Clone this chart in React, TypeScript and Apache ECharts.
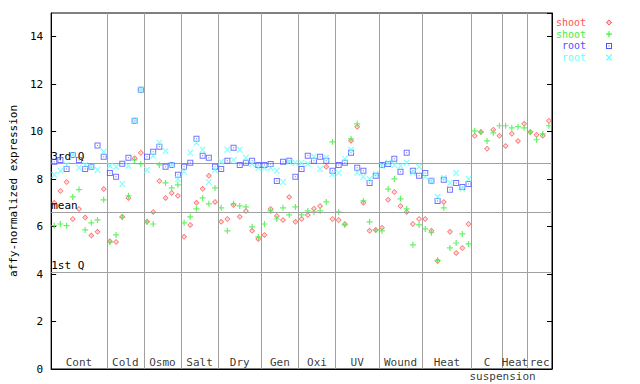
import React, { useEffect, useRef } from "react";
import * as echarts from "echarts";

const GROUP_NAMES = ["Cont", "Cold", "Osmo", "Salt", "Dry", "Gen", "Oxi", "UV", "Wound", "Heat", "C", "Heat", "rec"];
const GROUP_SIZES = [9, 6, 6, 6, 7, 6, 6, 7, 7, 8, 5, 4, 4];
const SUB_LABEL = "suspension";
const SUB_LABEL_X = 73;

const Y_TICKS_MIN = 0;
const Y_TICKS_MAX = 15;
const Y_INTERVAL = 2;

const Q_NAMES = ["3rd Q", "mean", "1st Q"];
const Q_VALUES = [8.69, 6.62, 4.09];

const SHOOT_RED = [
  7.0, 7.5, 7.88, 6.32, 6.74, 6.38, 5.62, 5.78, 7.58,
  5.38, 5.35, 6.41, 7.21, 8.88, 9.11,
  6.2, 6.62, 7.92, 7.21, 7.42, 7.3,
  5.57, 6.07, 7.0, 7.59, 8.14, 7.04,
  6.2, 6.32, 6.91, 6.41, 6.66, 5.82, 5.48,
  5.65, 6.74, 6.45, 6.28, 7.25, 6.2,
  6.32, 6.49, 6.75, 6.87, 8.52, 6.32,
  6.28, 6.11, 9.62, 10.21, 7.0, 5.82, 5.86,
  5.95, 7.13, 7.46, 6.87, 6.62, 6.11, 6.32,
  6.32, 5.82, 4.55, 7.04, 5.78, 4.89, 5.1, 6.11,
  9.83, 9.99, 9.28, 10.08, 9.83,
  9.4, 9.91, 9.61, 10.33,
  9.99, 9.87, 9.83, 10.46,
];

const SHOOT_GREEN = [
  6.04, 6.11, 6.04, 7.25, 7.56, 5.86, 6.16, 6.28, 7.13,
  5.35, 5.65, 6.39, 7.3, 8.81, 8.64,
  6.2, 6.11, 8.6, 7.84, 7.63, 7.76,
  6.16, 6.41, 6.75, 7.21, 6.96, 7.63,
  6.79, 5.82, 6.96, 6.87, 6.83, 5.99, 5.57,
  6.11, 6.66, 6.32, 6.79, 6.49, 6.83,
  6.49, 6.66, 6.62, 6.66, 7.04, 9.57,
  6.62, 6.07, 9.7, 10.33, 7.08, 6.2, 5.86,
  5.82, 7.58, 8.01, 7.17, 6.75, 5.23, 6.07,
  5.9, 5.74, 4.58, 6.79, 5.1, 5.31, 5.69, 5.27,
  10.03, 9.99, 9.61, 9.95, 10.25,
  10.25, 10.16, 10.21, 10.16,
  9.99, 9.66, 9.91, 10.25,
];

const ROOT_BLUE = [
  8.73, 8.81, 8.43, 9.02, 8.81, 8.43, 8.52, 9.42, 8.94,
  8.26, 8.1, 8.65, 8.9, 10.46, 11.77,
  8.94, 9.15, 9.36, 8.52, 8.6, 8.18,
  8.52, 8.69, 9.7, 8.98, 8.9, 8.52,
  8.43, 8.77, 9.32, 8.6, 8.69, 8.77, 8.6,
  8.6, 8.64, 7.92, 8.73, 8.77, 8.1,
  8.43, 8.98, 8.77, 8.94, 8.77, 8.35,
  8.6, 8.69, 9.11, 8.48, 8.35, 7.84, 8.14,
  8.6, 8.64, 8.86, 8.31, 9.11, 8.35, 8.14,
  8.26, 7.93, 7.08, 7.97, 7.55, 7.84, 7.67, 7.8,
  null, null, null, null, null,
  null, null, null, null,
  null, null, null, null,
];

const ROOT_CYAN = [
  8.18, 8.35, 8.6, 9.02, 8.48, 8.6, 8.52, 8.39, 9.15,
  8.56, 8.52, 7.8, 8.56, 10.46, 11.77,
  8.39, 8.98, 9.53, 9.19, 8.6, 8.01,
  8.31, 9.11, 9.53, 9.24, 7.88, 8.39,
  8.73, 9.24, 8.81, 9.24, 8.9, 8.64, 8.48,
  8.48, 8.48, 8.35, 7.88, 8.73, 8.69,
  8.69, 8.64, 8.94, 8.43, 8.9, 8.22,
  8.27, 8.86, 9.24, 8.27, 8.1, 8.01, 8.22,
  8.56, 8.69, 8.6, 8.56, 8.69, 8.27, 8.52,
  8.1, 7.93, 7.25, 8.05, 7.84, 8.26, 7.59, 8.01,
  null, null, null, null, null,
  null, null, null, null,
  null, null, null, null,
];

const SERIES_NAMES = ["shoot", "shoot", "root", "root"];
const COLORS = ["#ff5555", "#44ee44", "#5050ff", "#66ffff"];

const P_DIAMOND = "M2.5,0L5,2.5L2.5,5L0,2.5Z M2.5,1.1L1.1,2.5L2.5,3.9L3.9,2.5Z M2.5,2L3,2.5L2.5,3L2,2.5Z";
const P_PLUS = "M2,0h1v2h2v1h-2v2h-1v-2h-2v-1h2z";
const P_SQUARE = "M0,0h6v6h-6z M1,1v4h4v-4z M2.5,2.5h1v1h-1z";
const P_CROSS = "M0,0L1,0L2.5,1.8L4,0L5,0L5,0.6L3.1,2.5L5,4.4L5,5L4,5L2.5,3.2L1,5L0,5L0,4.4L1.9,2.5L0,0.6Z";
const PATHS = [P_DIAMOND, P_PLUS, P_SQUARE, P_CROSS];
const SIZES = [6, 6, 6, 6];

const FONT = "'DejaVu Sans Mono', 'Liberation Mono', monospace";
const FS = 11;
const LEGEND_FS = 10;
const LEGEND_Y0 = 22.5;
const LEGEND_STEP = 11.7;

let registered = false;
function registerShapes() {
  if (registered) return;
  registered = true;
  PATHS.forEach((d, k) => {
    echarts.graphic.registerShape("mk" + k, echarts.graphic.extendPath(d, {}));
  });
}

export default function App() {
  const ref = useRef<HTMLDivElement>(null);

  useEffect(() => {
    document.body.style.margin = "0";
    registerShapes();
    const chart = echarts.init(ref.current!, undefined, { renderer: "svg" });

    const bounds: number[] = [];
    const centers: number[] = [];
    let acc = 0;
    GROUP_SIZES.forEach((s) => {
      centers.push(acc + s / 2);
      acc += s;
      bounds.push(acc);
    });
    const total = acc;
    const separators = bounds.slice(0, bounds.length - 1);

    const allSeries = [SHOOT_RED, SHOOT_GREEN, ROOT_BLUE, ROOT_CYAN];

    const scatterSeries = allSeries.map((arr, k) => ({
      type: "scatter",
      name: SERIES_NAMES[k] + k,
      data: arr
        .map((v, i) => (v == null ? null : [i + 0.5, v]))
        .filter((d) => d != null),
      symbol: "path://" + PATHS[k],
      symbolSize: SIZES[k],
      itemStyle: { color: COLORS[k] },
      silent: true,
      z: 3 + k,
    }));

    const labelData = GROUP_NAMES.map((n, i) => ({ value: [centers[i], 0], name: n }));

    const option: any = {
      animation: false,
      backgroundColor: "#ffffff",
      grid: {
        left: 44,
        right: 88,
        top: 13,
        bottom: 15,
        show: true,
        borderColor: "#000000",
        borderWidth: 1,
        backgroundColor: "transparent",
      },
      xAxis: {
        type: "value",
        min: 0,
        max: total,
        axisLine: { show: true, lineStyle: { color: "#000000", width: 1 } },
        axisTick: { show: false },
        axisLabel: { show: false },
        splitLine: { show: false },
      },
      yAxis: [
        {
          type: "value",
          min: Y_TICKS_MIN,
          max: Y_TICKS_MAX,
          interval: Y_INTERVAL,
          name: "affy-normalized expression",
          nameLocation: "middle",
          nameGap: 32,
          nameRotate: 90,
          nameTextStyle: { fontFamily: FONT, fontSize: FS, color: "#000000" },
          axisLine: { show: true, lineStyle: { color: "#000000", width: 1 } },
          axisTick: { show: true, inside: true, length: 5, lineStyle: { color: "#000000" } },
          axisLabel: {
            showMaxLabel: false,
            margin: 8,
            fontFamily: FONT,
            fontSize: FS,
            color: "#000000",
            formatter: (v: number) => (v > 14 ? "" : String(v)),
          },
          splitLine: { show: false },
        },
        {
          type: "value",
          position: "right",
          min: Y_TICKS_MIN,
          max: Y_TICKS_MAX,
          interval: Y_INTERVAL,
          axisLine: { show: true, lineStyle: { color: "#000000", width: 1 } },
          axisTick: { show: true, inside: true, length: 5, lineStyle: { color: "#000000" } },
          axisLabel: { show: false },
          splitLine: { show: false },
        },
      ],
      series: [
        {
          type: "scatter",
          name: "lines",
          data: [],
          silent: true,
          markLine: {
            silent: true,
            symbol: ["none", "none"],
            animation: false,
            lineStyle: { color: "#a0a0a0", type: "solid", width: 1 },
            label: { show: false },
            emphasis: { disabled: true },
            data: [
              ...separators.map((x) => ({ xAxis: x, label: { show: false } })),
              ...Q_VALUES.map((v, i) => ({
                yAxis: v,
                label: {
                  show: true,
                  formatter: Q_NAMES[i],
                  position: "insideStartTop",
                  distance: [0, 1],
                  color: "#000000",
                  fontFamily: FONT,
                  fontSize: FS,
                },
              })),
            ],
          },
          z: 1,
        },
        ...scatterSeries,
        {
          type: "scatter",
          name: "groupLabels",
          data: labelData,
          symbolSize: 0,
          silent: true,
          label: {
            show: true,
            position: "top",
            distance: 1,
            formatter: (p: any) => p.name,
            color: "#000000",
            fontFamily: FONT,
            fontSize: FS,
          },
          z: 10,
        },
        {
          type: "scatter",
          name: "subLabel",
          data: [{ value: [SUB_LABEL_X, 0], name: SUB_LABEL }],
          symbolSize: 0,
          silent: true,
          label: {
            show: true,
            position: "bottom",
            distance: 2,
            formatter: (p: any) => p.name,
            color: "#000000",
            fontFamily: FONT,
            fontSize: FS,
          },
          z: 10,
        },
      ],
      graphic: [
        ...SERIES_NAMES.map((n, k) => ({
          type: "text",
          x: 586,
          y: LEGEND_Y0 + k * LEGEND_STEP,
          style: {
            text: n,
            fill: COLORS[k],
            font: `${LEGEND_FS}px ${FONT}`,
            textAlign: "right",
            textVerticalAlign: "middle",
          },
        })),
        ...SERIES_NAMES.map((n, k) => ({
          type: "mk" + k,
          x: 609 - SIZES[k] / 2,
          y: LEGEND_Y0 + k * LEGEND_STEP - SIZES[k] / 2,
          scaleX: SIZES[k] / (k === 2 ? 6 : 5),
          scaleY: SIZES[k] / (k === 2 ? 6 : 5),
          style: { fill: COLORS[k] },
        })),
      ],
    };

    chart.setOption(option);
    return () => chart.dispose();
  }, []);

  return <div ref={ref} style={{ width: 640, height: 384 }} />;
}
